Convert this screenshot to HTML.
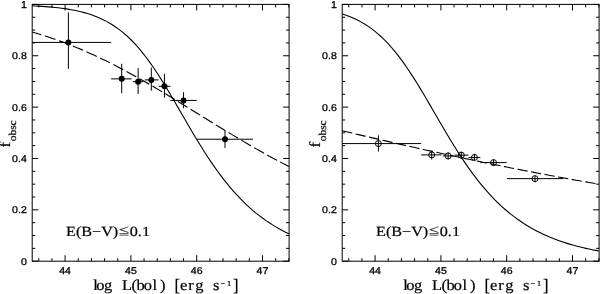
<!DOCTYPE html>
<html lang="en"><head><meta charset="utf-8"><title>f_obsc vs log L(bol)</title>
<style>
html,body{margin:0;padding:0;background:#fff;}
svg{display:block}
text{text-rendering:geometricPrecision}
.t{font-family:"Liberation Sans",sans-serif;font-size:9.8px;fill:#000;stroke:#000;stroke-width:.3px}
.b{stroke:#000;stroke-width:.2px}
.r{font-family:"Liberation Serif","Noto Serif CJK SC",serif;fill:#000}
</style></head><body>
<svg width="600" height="294" viewBox="0 0 600 294">
<rect width="600" height="294" fill="#fff"/>
<rect x="32.2" y="4.4" width="256.9" height="256.8" fill="none" stroke="#000" stroke-width="1.0"/>
<path d="M38.78 261.2v-3M38.78 4.4v3M51.94 261.2v-3M51.94 4.4v3M65.1 261.2v-6M65.1 4.4v6M78.26 261.2v-3M78.26 4.4v3M91.42 261.2v-3M91.42 4.4v3M104.58 261.2v-3M104.58 4.4v3M117.74 261.2v-3M117.74 4.4v3M130.9 261.2v-6M130.9 4.4v6M144.06 261.2v-3M144.06 4.4v3M157.22 261.2v-3M157.22 4.4v3M170.38 261.2v-3M170.38 4.4v3M183.54 261.2v-3M183.54 4.4v3M196.7 261.2v-6M196.7 4.4v6M209.86 261.2v-3M209.86 4.4v3M223.02 261.2v-3M223.02 4.4v3M236.18 261.2v-3M236.18 4.4v3M249.34 261.2v-3M249.34 4.4v3M262.5 261.2v-6M262.5 4.4v6M275.66 261.2v-3M275.66 4.4v3M288.82 261.2v-3M288.82 4.4v3M32.2 261.2h6M289.1 261.2h-6M32.2 248.36h3M289.1 248.36h-3M32.2 235.52h3M289.1 235.52h-3M32.2 222.68h3M289.1 222.68h-3M32.2 209.84h6M289.1 209.84h-6M32.2 197h3M289.1 197h-3M32.2 184.16h3M289.1 184.16h-3M32.2 171.32h3M289.1 171.32h-3M32.2 158.48h6M289.1 158.48h-6M32.2 145.64h3M289.1 145.64h-3M32.2 132.8h3M289.1 132.8h-3M32.2 119.96h3M289.1 119.96h-3M32.2 107.12h6M289.1 107.12h-6M32.2 94.28h3M289.1 94.28h-3M32.2 81.44h3M289.1 81.44h-3M32.2 68.6h3M289.1 68.6h-3M32.2 55.76h6M289.1 55.76h-6M32.2 42.92h3M289.1 42.92h-3M32.2 30.08h3M289.1 30.08h-3M32.2 17.24h3M289.1 17.24h-3M32.2 4.4h6M289.1 4.4h-6" stroke="#000" stroke-width="1.0" fill="none"/>
<polyline fill="none" stroke="#000" stroke-width="1.1" points="32.2,5.79 35.45,5.95 38.7,6.14 41.95,6.34 45.19,6.58 48.44,6.83 51.69,7.12 54.94,7.44 58.19,7.8 61.44,8.2 64.68,8.65 67.93,9.15 71.18,9.7 74.43,10.32 77.68,11 80.93,11.77 84.17,12.61 87.42,13.55 90.67,14.58 93.92,15.73 97.17,16.99 100.42,18.39 103.66,19.92 106.91,21.61 110.16,23.45 113.41,25.47 116.66,27.67 119.91,30.07 123.15,32.67 126.4,35.47 129.65,38.5 132.9,41.75 136.15,45.23 139.4,48.94 142.64,52.87 145.89,57.03 149.14,61.41 152.39,65.99 155.64,70.77 158.89,75.73 162.13,80.85 165.38,86.11 168.63,91.5 171.88,96.97 175.13,102.52 178.38,108.12 181.62,113.73 184.87,119.34 188.12,124.93 191.37,130.46 194.62,135.93 197.87,141.31 201.11,146.58 204.36,151.74 207.61,156.76 210.86,161.64 214.11,166.37 217.36,170.95 220.6,175.37 223.85,179.62 227.1,183.7 230.35,187.62 233.6,191.38 236.85,194.97 240.09,198.41 243.34,201.69 246.59,204.81 249.84,207.79 253.09,210.62 256.34,213.32 259.58,215.88 262.83,218.31 266.08,220.62 269.33,222.81 272.58,224.89 275.83,226.86 279.07,228.72 282.32,230.49 285.57,232.16 288.82,233.75"/>
<polyline fill="none" stroke="#000" stroke-width="1.1" stroke-dasharray="11.15 3.72" stroke-dashoffset="1.6" points="32.2,31.98 35.45,32.94 38.7,33.93 41.95,34.94 45.19,35.99 48.44,37.06 51.69,38.16 54.94,39.29 58.19,40.45 61.44,41.63 64.68,42.85 67.93,44.1 71.18,45.37 74.43,46.68 77.68,48.01 80.93,49.37 84.17,50.76 87.42,52.18 90.67,53.63 93.92,55.11 97.17,56.62 100.42,58.15 103.66,59.72 106.91,61.31 110.16,62.92 113.41,64.56 116.66,66.23 119.91,67.93 123.15,69.64 126.4,71.38 129.65,73.15 132.9,74.93 136.15,76.74 139.4,78.56 142.64,80.41 145.89,82.28 149.14,84.16 152.39,86.06 155.64,87.97 158.89,89.9 162.13,91.84 165.38,93.79 168.63,95.75 171.88,97.73 175.13,99.71 178.38,101.7 181.62,103.7 184.87,105.7 188.12,107.7 191.37,109.71 194.62,111.72 197.87,113.73 201.11,115.75 204.36,117.75 207.61,119.76 210.86,121.76 214.11,123.76 217.36,125.75 220.6,127.74 223.85,129.72 227.1,131.69 230.35,133.65 233.6,135.6 236.85,137.54 240.09,139.46 243.34,141.38 246.59,143.28 249.84,145.16 253.09,147.04 256.34,148.89 259.58,150.73 262.83,152.55 266.08,154.36 269.33,156.15 272.58,157.92 275.83,159.67 279.07,161.41 282.32,163.12 285.57,164.81 288.82,166.49"/>
<path d="M32.2 42.41H111.16M68.39 68.86V12.36M111.16 78.87H131.56M121.69 93.25V63.72M132.87 81.7H143.4M138.14 94.02V68.09M144.72 79.9H158.54M151.3 90.68V67.57M158.54 86.32H170.38M164.46 97.62V73.74M170.38 100.44H196.7M183.54 108.15V92.23M197.03 139.22H252.96M224.99 147.95V130.75" stroke="#000" stroke-width="1.0" fill="none"/>
<circle cx="68.39" cy="42.41" r="3.0" fill="#000"/>
<circle cx="121.69" cy="78.87" r="3.0" fill="#000"/>
<circle cx="138.14" cy="81.7" r="3.0" fill="#000"/>
<circle cx="151.3" cy="79.9" r="3.0" fill="#000"/>
<circle cx="164.46" cy="86.32" r="3.0" fill="#000"/>
<circle cx="183.54" cy="100.44" r="3.0" fill="#000"/>
<circle cx="224.99" cy="139.22" r="3.0" fill="#000"/>
<text class="t" transform="translate(65.1,273.5) scale(1.08,1)" text-anchor="middle">44</text>
<text class="t" transform="translate(130.9,273.5) scale(1.08,1)" text-anchor="middle">45</text>
<text class="t" transform="translate(196.7,273.5) scale(1.08,1)" text-anchor="middle">46</text>
<text class="t" transform="translate(262.5,273.5) scale(1.08,1)" text-anchor="middle">47</text>
<text class="t" transform="translate(26.8,264.6) scale(1.08,1)" text-anchor="end">0</text>
<text class="t" transform="translate(26.8,213.24) scale(1.08,1)" text-anchor="end">0.2</text>
<text class="t" transform="translate(26.8,161.88) scale(1.08,1)" text-anchor="end">0.4</text>
<text class="t" transform="translate(26.8,110.52) scale(1.08,1)" text-anchor="end">0.6</text>
<text class="t" transform="translate(26.8,59.16) scale(1.08,1)" text-anchor="end">0.8</text>
<text class="t" transform="translate(26.8,7.8) scale(1.08,1)" text-anchor="end">1</text>
<rect x="342.2" y="4.4" width="256.9" height="256.8" fill="none" stroke="#000" stroke-width="1.0"/>
<path d="M348.78 261.2v-3M348.78 4.4v3M361.94 261.2v-3M361.94 4.4v3M375.1 261.2v-6M375.1 4.4v6M388.26 261.2v-3M388.26 4.4v3M401.42 261.2v-3M401.42 4.4v3M414.58 261.2v-3M414.58 4.4v3M427.74 261.2v-3M427.74 4.4v3M440.9 261.2v-6M440.9 4.4v6M454.06 261.2v-3M454.06 4.4v3M467.22 261.2v-3M467.22 4.4v3M480.38 261.2v-3M480.38 4.4v3M493.54 261.2v-3M493.54 4.4v3M506.7 261.2v-6M506.7 4.4v6M519.86 261.2v-3M519.86 4.4v3M533.02 261.2v-3M533.02 4.4v3M546.18 261.2v-3M546.18 4.4v3M559.34 261.2v-3M559.34 4.4v3M572.5 261.2v-6M572.5 4.4v6M585.66 261.2v-3M585.66 4.4v3M598.82 261.2v-3M598.82 4.4v3M342.2 261.2h6M599.1 261.2h-6M342.2 248.36h3M599.1 248.36h-3M342.2 235.52h3M599.1 235.52h-3M342.2 222.68h3M599.1 222.68h-3M342.2 209.84h6M599.1 209.84h-6M342.2 197h3M599.1 197h-3M342.2 184.16h3M599.1 184.16h-3M342.2 171.32h3M599.1 171.32h-3M342.2 158.48h6M599.1 158.48h-6M342.2 145.64h3M599.1 145.64h-3M342.2 132.8h3M599.1 132.8h-3M342.2 119.96h3M599.1 119.96h-3M342.2 107.12h6M599.1 107.12h-6M342.2 94.28h3M599.1 94.28h-3M342.2 81.44h3M599.1 81.44h-3M342.2 68.6h3M599.1 68.6h-3M342.2 55.76h6M599.1 55.76h-6M342.2 42.92h3M599.1 42.92h-3M342.2 30.08h3M599.1 30.08h-3M342.2 17.24h3M599.1 17.24h-3M342.2 4.4h6M599.1 4.4h-6" stroke="#000" stroke-width="1.0" fill="none"/>
<polyline fill="none" stroke="#000" stroke-width="1.1" points="342.2,13.97 345.45,15.05 348.7,16.25 351.95,17.56 355.19,19.01 358.44,20.61 361.69,22.36 364.94,24.28 368.19,26.37 371.44,28.66 374.68,31.14 377.93,33.82 381.18,36.72 384.43,39.84 387.68,43.19 390.93,46.76 394.17,50.57 397.42,54.6 400.67,58.85 403.92,63.31 407.17,67.98 410.42,72.84 413.66,77.87 416.91,83.05 420.16,88.36 423.41,93.79 426.66,99.3 429.91,104.87 433.15,110.48 436.4,116.09 439.65,121.7 442.9,127.26 446.15,132.77 449.4,138.2 452.64,143.54 455.89,148.77 459.14,153.87 462.39,158.83 465.64,163.65 468.89,168.32 472.13,172.83 475.38,177.17 478.63,181.35 481.88,185.37 485.13,189.22 488.38,192.91 491.62,196.44 494.87,199.81 498.12,203.02 501.37,206.08 504.62,209 507.87,211.77 511.11,214.41 514.36,216.92 517.61,219.3 520.86,221.55 524.11,223.7 527.36,225.73 530.6,227.65 533.85,229.48 537.1,231.21 540.35,232.84 543.6,234.39 546.85,235.86 550.09,237.25 553.34,238.56 556.59,239.8 559.84,240.98 563.09,242.09 566.34,243.14 569.58,244.13 572.83,245.07 576.08,245.96 579.33,246.8 582.58,247.59 585.83,248.34 589.07,249.05 592.32,249.72 595.57,250.35 598.82,250.95"/>
<polyline fill="none" stroke="#000" stroke-width="1.1" stroke-dasharray="10.3 3.5" points="342.2,130.78 345.45,131.55 348.7,132.31 351.95,133.08 355.19,133.85 358.44,134.61 361.69,135.37 364.94,136.13 368.19,136.89 371.44,137.65 374.68,138.4 377.93,139.15 381.18,139.9 384.43,140.65 387.68,141.4 390.93,142.14 394.17,142.89 397.42,143.63 400.67,144.37 403.92,145.1 407.17,145.84 410.42,146.57 413.66,147.3 416.91,148.02 420.16,148.75 423.41,149.47 426.66,150.19 429.91,150.91 433.15,151.62 436.4,152.33 439.65,153.04 442.9,153.75 446.15,154.45 449.4,155.15 452.64,155.85 455.89,156.55 459.14,157.24 462.39,157.93 465.64,158.62 468.89,159.3 472.13,159.98 475.38,160.66 478.63,161.34 481.88,162.01 485.13,162.68 488.38,163.35 491.62,164.01 494.87,164.67 498.12,165.33 501.37,165.99 504.62,166.64 507.87,167.29 511.11,167.93 514.36,168.58 517.61,169.22 520.86,169.85 524.11,170.49 527.36,171.12 530.6,171.74 533.85,172.37 537.1,172.99 540.35,173.61 543.6,174.22 546.85,174.83 550.09,175.44 553.34,176.04 556.59,176.64 559.84,177.24 563.09,177.84 566.34,178.43 569.58,179.02 572.83,179.6 576.08,180.19 579.33,180.76 582.58,181.34 585.83,181.91 589.07,182.48 592.32,183.05 595.57,183.61 598.82,184.17"/>
<path d="M342.2 143.59H421.16M378.39 151.55V135.37M421.16 154.88H441.56M431.69 159.51V150.78M442.87 155.91H453.4M448.14 159.51V152.32M454.72 155.14H468.54M461.3 158.99V151.8M468.54 157.45H480.38M474.46 160.79V153.86M480.38 162.59H506.7M493.54 165.67V159.51M507.03 178.64H562.96M534.99 182.36V175.69" stroke="#000" stroke-width="1.0" fill="none"/>
<circle cx="378.39" cy="143.59" r="3" fill="none" stroke="#000" stroke-width="1.0"/>
<circle cx="431.69" cy="154.88" r="3" fill="none" stroke="#000" stroke-width="1.0"/>
<circle cx="448.14" cy="155.91" r="3" fill="none" stroke="#000" stroke-width="1.0"/>
<circle cx="461.3" cy="155.14" r="3" fill="none" stroke="#000" stroke-width="1.0"/>
<circle cx="474.46" cy="157.45" r="3" fill="none" stroke="#000" stroke-width="1.0"/>
<circle cx="493.54" cy="162.59" r="3" fill="none" stroke="#000" stroke-width="1.0"/>
<circle cx="534.99" cy="178.64" r="3" fill="none" stroke="#000" stroke-width="1.0"/>
<text class="t" transform="translate(375.1,273.5) scale(1.08,1)" text-anchor="middle">44</text>
<text class="t" transform="translate(440.9,273.5) scale(1.08,1)" text-anchor="middle">45</text>
<text class="t" transform="translate(506.7,273.5) scale(1.08,1)" text-anchor="middle">46</text>
<text class="t" transform="translate(572.5,273.5) scale(1.08,1)" text-anchor="middle">47</text>
<text class="t" transform="translate(336.8,264.6) scale(1.08,1)" text-anchor="end">0</text>
<text class="t" transform="translate(336.8,213.24) scale(1.08,1)" text-anchor="end">0.2</text>
<text class="t" transform="translate(336.8,161.88) scale(1.08,1)" text-anchor="end">0.4</text>
<text class="t" transform="translate(336.8,110.52) scale(1.08,1)" text-anchor="end">0.6</text>
<text class="t" transform="translate(336.8,59.16) scale(1.08,1)" text-anchor="end">0.8</text>
<text class="t" transform="translate(336.8,7.8) scale(1.08,1)" text-anchor="end">1</text>
<text class="r b" x="66" y="235.5" font-size="14" textLength="84" lengthAdjust="spacingAndGlyphs">E(B−V)<tspan font-size="10" dy="-0.8">≦</tspan><tspan dy="0.8">0.1</tspan></text>
<text class="r b" transform="scale(1.1,1)" y="290" font-size="15" x="84.73 87.55 94.55 102.45 110.91 119.45 124.09 130.64 138.73 145.36">log L(bol)</text>
<text class="r b" transform="scale(1.1,1.16)" y="250.52" font-size="15" x="158.64">[</text>
<text class="r b" transform="scale(1.1,1)" y="290" font-size="15" x="163.64 171.09 177.45 186.09 193.55">erg s</text>
<text class="r b" transform="scale(1.1,1)" y="286" font-size="7.5" x="200.45 206.45">−1</text>
<text class="r b" transform="scale(1.1,1.16)" y="250.52" font-size="15" x="211.73">]</text>
<text class="r b" transform="translate(10.4,147.4) rotate(-90) scale(1.1,1)" font-size="15.5">f</text>
<text class="r b" transform="translate(16,141.3) rotate(-90)" font-size="10.5" textLength="21" lengthAdjust="spacingAndGlyphs">obsc</text>
<text class="r b" x="376" y="235.5" font-size="14" textLength="84" lengthAdjust="spacingAndGlyphs">E(B−V)<tspan font-size="10" dy="-0.8">≦</tspan><tspan dy="0.8">0.1</tspan></text>
<text class="r b" transform="scale(1.1,1)" y="290" font-size="15" x="366.55 369.36 376.36 384.27 392.73 401.27 405.91 412.45 420.55 427.18">log L(bol)</text>
<text class="r b" transform="scale(1.1,1.16)" y="250.52" font-size="15" x="440.45">[</text>
<text class="r b" transform="scale(1.1,1)" y="290" font-size="15" x="445.45 452.91 459.27 467.91 475.36">erg s</text>
<text class="r b" transform="scale(1.1,1)" y="286" font-size="7.5" x="482.27 488.27">−1</text>
<text class="r b" transform="scale(1.1,1.16)" y="250.52" font-size="15" x="493.55">]</text>
<text class="r b" transform="translate(320.4,147.4) rotate(-90) scale(1.1,1)" font-size="15.5">f</text>
<text class="r b" transform="translate(326,141.3) rotate(-90)" font-size="10.5" textLength="21" lengthAdjust="spacingAndGlyphs">obsc</text>
</svg>
</body></html>
